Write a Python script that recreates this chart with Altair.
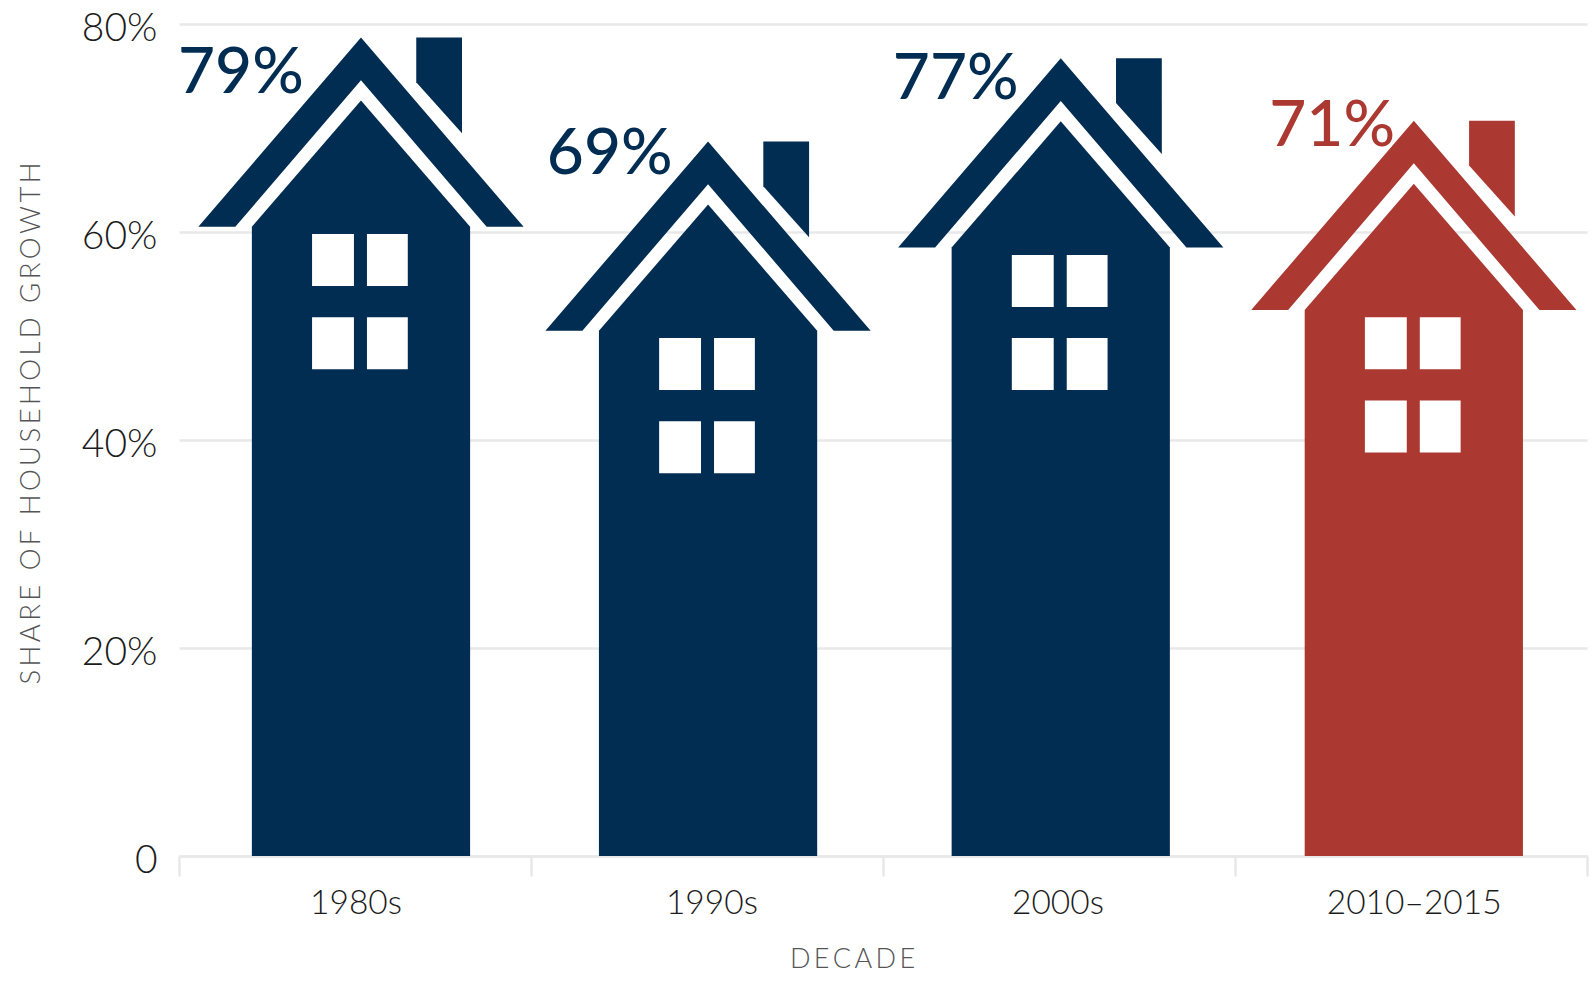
import altair as alt
import pandas as pd

# Values and labels for the four periods
periods = ["1980s", "1990s", "2000s", "2010–2015"]
shares = [79, 69, 77, 71]
share_labels = ["79%", "69%", "77%", "71%"]
colours = ["#022d53", "#022d53", "#022d53", "#ab3931"]

# Where each house stands along the period axis, and where the labels sit
house_centres = [0.517, 1.503, 2.505, 3.508]
period_label_x = [0.503, 1.514, 2.497, 3.509]
share_label_x = [-0.003, 1.045, 2.028, 3.097]
share_label_y = [75.2, 67.4, 74.6, 70.1]

# House outline, as offsets from the centre (period units) and the roof peak (percentage points)
PEAK_DROP = 0.3
BODY_HALF = 0.31
ROOF_HALF = 0.462
ROOF_INNER_HALF = 0.357
EAVE_DROP = 18.2
INNER_APEX_DROP = 4.1
BODY_APEX_DROP = 6.06
CHIMNEY = [(0.157, 4.3), (0.287, 9.2)]
PANE_X = [(-0.139, -0.02), (0.017, 0.133)]
PANE_DROP = [(18.9, 23.9), (26.9, 31.9)]

areas, panes = [], []
for i, (cx, share, colour) in enumerate(zip(house_centres, shares, colours)):
    peak = share - PEAK_DROP
    eave = peak - EAVE_DROP
    shoulder = eave + (ROOF_HALF - ROOF_INNER_HALF) / ROOF_HALF * EAVE_DROP

    def add(piece, points):
        for dx, top, bottom in points:
            areas.append(dict(piece=f"{piece}{i}", colour=colour, x=cx + dx, top=top, bottom=bottom))

    add("body", [(-BODY_HALF, eave, 0), (0, peak - BODY_APEX_DROP, 0), (BODY_HALF, eave, 0)])
    add("roof", [
        (-ROOF_HALF, eave, eave),
        (-ROOF_INNER_HALF, shoulder, eave),
        (0, peak, peak - INNER_APEX_DROP),
        (ROOF_INNER_HALF, shoulder, eave),
        (ROOF_HALF, eave, eave),
    ])
    add("chimney", [(dx, peak, peak - drop) for dx, drop in CHIMNEY])
    for x0, x1 in PANE_X:
        for d0, d1 in PANE_DROP:
            panes.append(dict(x=cx + x0, x2=cx + x1, top=peak - d0, bottom=peak - d1))

areas = pd.DataFrame(areas)
panes = pd.DataFrame(panes)
period_df = pd.DataFrame(dict(label=periods, x=period_label_x))
share_df = pd.DataFrame(dict(label=share_labels, x=share_label_x, y=share_label_y, colour=colours))

FONT = "Lato"
GREY = "#e8e8e8"
WIDTH, HEIGHT = 1408, 832
# Narrow spaces give the axis titles their tracked-out look
TRACK = "\u200a\u200a"

x_scale = alt.Scale(domain=[0, 4], nice=False, zero=False)
y_scale = alt.Scale(domain=[0, 80], nice=False)

x_axis = alt.Axis(
    values=[0, 1, 2, 3, 4], labels=False, grid=False, title=TRACK.join("DECADE"),
    domainColor=GREY, domainWidth=2.5, tickColor=GREY, tickWidth=2.5, tickSize=20,
    titleFont=FONT, titleFontSize=27, titleFontWeight=300, titleColor="#555555",
    titleX=673, titleY=103, titleBaseline="middle",
)
y_axis = alt.Axis(
    values=[0, 20, 40, 60, 80], labelExpr="datum.value === 0 ? '0' : datum.value + '%'",
    grid=True, gridColor=GREY, gridWidth=2.5, domain=False, ticks=False,
    title=TRACK.join("SHARE OF HOUSEHOLD GROWTH"),
    labelFont=FONT, labelFontSize=39, labelFontWeight=300, labelColor="#1c1c1c", labelPadding=22, labelOffset=4,
    titleFont=FONT, titleFontSize=27.5, titleFontWeight=300, titleColor="#555555",
    titleX=-134, titleY=399,
)

# One area per house part; each part has its own silhouette between top and bottom
houses = alt.Chart(areas).mark_area(interpolate="linear").encode(
    x=alt.X("x:Q", scale=x_scale, axis=x_axis),
    y=alt.Y("top:Q", scale=y_scale, axis=y_axis),
    y2=alt.Y2("bottom:Q"),
    detail="piece:N",
    fill=alt.Fill("colour:N", scale=None),
)

windows = alt.Chart(panes).mark_rect(color="white").encode(
    x=alt.X("x:Q", scale=x_scale), x2="x2:Q",
    y=alt.Y("top:Q", scale=y_scale), y2="bottom:Q",
)

share_text = alt.Chart(share_df).mark_text(
    align="left", baseline="middle", font=FONT, fontSize=64, fontWeight=500
).encode(
    x=alt.X("x:Q", scale=x_scale),
    y=alt.Y("y:Q", scale=y_scale),
    text="label:N",
    color=alt.Color("colour:N", scale=None),
)

period_text = alt.Chart(period_df).mark_text(
    align="center", baseline="middle", font=FONT, fontSize=33.5, fontWeight=300, color="#1c1c1c"
).encode(
    x=alt.X("x:Q", scale=x_scale),
    y=alt.value(880),
    text="label:N",
)

chart = alt.layer(houses, windows, share_text, period_text).properties(
    width=WIDTH,
    height=HEIGHT,
    padding={"left": 179, "top": 24, "right": 8, "bottom": 125},
    autosize=alt.AutoSizeParams(type="none"),
    background="white",
).configure_view(stroke=None)

chart.save("out.html", embed_options={"renderer": "svg", "actions": False})
